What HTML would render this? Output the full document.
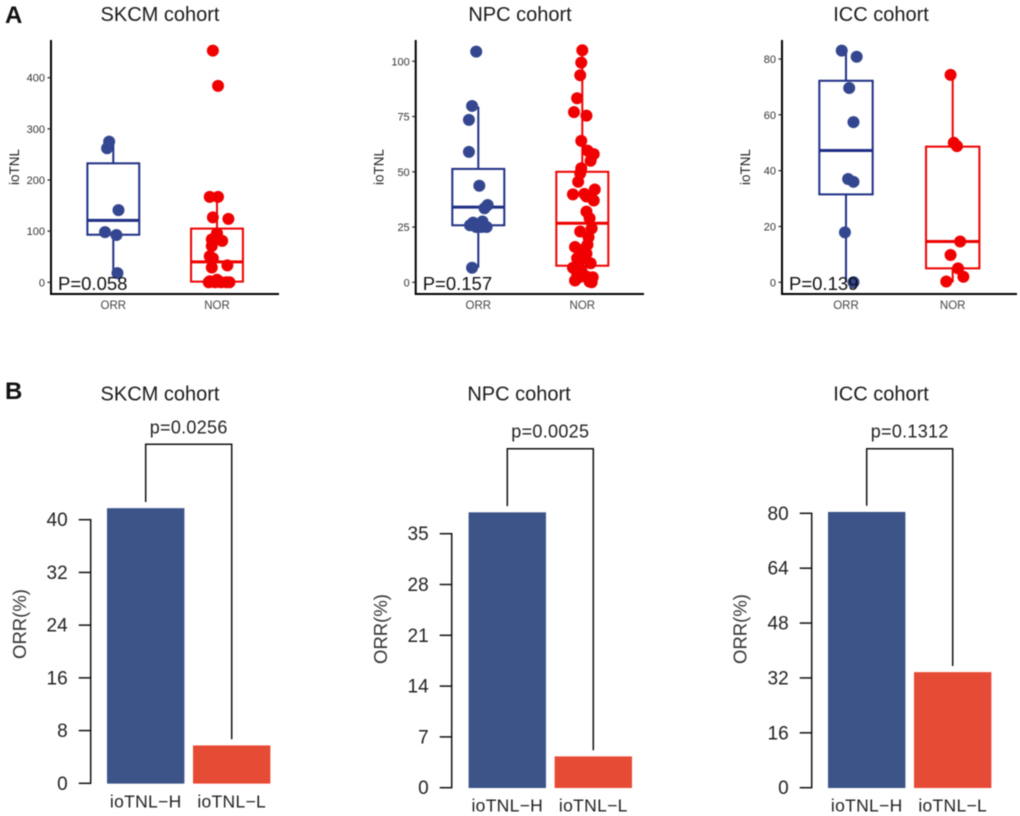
<!DOCTYPE html>
<html>
<head>
<meta charset="utf-8">
<title>ioTNL cohorts</title>
<style>
html,body{margin:0;padding:0;background:#fff;}
#fig{display:block;width:1020px;height:816px;font-family:"Liberation Sans",sans-serif;filter:blur(0.45px);}
.title{font-size:20px;fill:#1a1a1a;text-anchor:middle;}
.panel{font-size:24px;font-weight:bold;fill:#111;}
.ptext{font-size:18.5px;fill:#111;}
.ytA{font-size:13.5px;fill:#222;text-anchor:middle;}
.tkA{font-size:11px;fill:#333;text-anchor:end;}
.xkA{font-size:11.5px;fill:#444;text-anchor:middle;}
.tkB{font-size:19px;fill:#222;text-anchor:end;}
.xkB{font-size:17.5px;fill:#222;text-anchor:middle;letter-spacing:.3px;}
.ytB{font-size:18.5px;fill:#333;text-anchor:middle;}
.pB{font-size:18px;fill:#222;text-anchor:middle;letter-spacing:.3px;}
</style>
</head>
<body>
<svg id="fig" width="1020" height="816" viewBox="0 0 1020 816">
  <text class="panel" x="5" y="23">A</text>
  <text class="panel" x="5" y="399">B</text>
  <text class="title" x="160" y="21">SKCM cohort</text>
  <text class="title" x="520" y="21">NPC cohort</text>
  <text class="title" x="881" y="21">ICC cohort</text>
  <text class="title" x="160" y="400.5">SKCM cohort</text>
  <text class="title" x="519" y="400.5">NPC cohort</text>
  <text class="title" x="881" y="400.5">ICC cohort</text>
  <g id="layer"></g>
</svg>
<script>
// ---- Panel A data ----
const boxCategories = ['ORR', 'NOR'];

const skcmTicks = [0, 100, 200, 300, 400];
const skcmOrrBox = [18, 93, 121, 232.6, 275];
const skcmNorBox = [0, 1.3, 40, 105, 167];
const skcmOrrValues = [275, 262, 141, 98, 92.5, 18];
const skcmOrrJitter = [-.04, -.06, .05, -.08, .03, .04];
const skcmNorValues = [453, 384, 167, 167, 127, 124, 96, 86, 84, 81, 71, 51, 47, 33, 29, 5, 2, 0, 0, 0, 0, 1, 0];
const skcmNorJitter = [-.04, .01, -.07, .01, -.04, .11, 0, 0, -.05, .05, -.05, -.07, -.04, .10, -.05, 0, -.07, -.08, -.02, .04, .09, .01, .12];
const skcmP = 'P=0.058';

const npcTicks = [0, 25, 50, 75, 100];
const npcOrrBox = [6.6, 25.8, 34, 51.3, 79.5];
const npcNorBox = [0, 7.5, 26.7, 50, 105];
const npcOrrValues = [104.4, 79.8, 73.5, 59, 43.7, 35, 33.5, 27, 27.5, 25.8, 25, 25, 25, 6.6];
const npcOrrJitter = [-.02, -.06, -.09, -.09, .01, .09, .06, -.05, .04, -.08, -.02, .08, .03, -.06];
const npcNorValues = [105, 99.4, 93.7, 83.3, 77, 75.4, 64, 59.6, 58, 55, 51.6, 49.3, 45.5, 39.8, 40, 42, 37, 38.8, 32, 29, 24.4, 23, 20.4, 17, 16, 10.9, 10.9, 8.6, 6.6, 5.6, 1.8, .8, 2.6, 2.3, 0, 3.3, .3, 7.8, 13, 14.6, 4];
const npcNorJitter = [0, -.01, -.02, -.05, -.08, .04, -.01, .05, .11, .08, -.01, -.02, -.04, -.09, .02, .12, .11, .04, .04, .07, .09, -.02, .06, .05, -.07, -.05, .02, .08, -.09, -.01, -.05, -.07, .04, .10, .09, .01, .07, -.04, .04, -.01, -.05];
const npcP = 'P=0.157';

const iccTicks = [0, 20, 40, 60, 80];
const iccOrrBox = [0, 31.5, 47.2, 72.2, 83];
const iccNorBox = [0, 5, 14.6, 48.6, 74.3];
const iccOrrValues = [83, 80.8, 69.6, 57.4, 37, 36, 17.9, 0];
const iccOrrJitter = [-.04, .10, .03, .07, .02, .07, -.01, .07];
const iccNorValues = [74.3, 50, 48.8, 14.6, 9.8, 5, 2, .3];
const iccNorJitter = [-.02, .01, .04, .07, -.02, .05, .10, -.06];
const iccP = 'P=0.139';

// ---- Panel B data ----
const barCategories = ['ioTNL\u2212H', 'ioTNL\u2212L'];
const skcmBarValues = [41.7, 5.7];
const skcmBarTicks = [0, 8, 16, 24, 32, 40];
const skcmBarP = 'p=0.0256';
const npcBarValues = [37.9, 4.27];
const npcBarTicks = [0, 7, 14, 21, 28, 35];
const npcBarP = 'p=0.0025';
const iccBarValues = [80.3, 33.6];
const iccBarTicks = [0, 16, 32, 48, 64, 80];
const iccBarP = 'p=0.1312';

const NS = 'http://www.w3.org/2000/svg';
const layer = document.getElementById('layer');

function mk(tag, attrs, parent, txt) {
  const el = document.createElementNS(NS, tag);
  for (const k in attrs) el.setAttribute(k, attrs[k]);
  if (txt !== undefined) el.textContent = txt;
  (parent || layer).appendChild(el);
  return el;
}
function line(p, x1, y1, x2, y2, stroke, w) {
  return mk('line', {x1: x1, y1: y1, x2: x2, y2: y2, stroke: stroke, 'stroke-width': w}, p);
}

function boxPanel(id, g, ticks, orrBox, norBox, orrV, orrJ, norV, norJ, pText) {
  const root = mk('g', {});
  
  
  const yScale = v => g.y0 - v * (g.y0 - g.yRef) / g.vRef;
  const xScale = i => g.c0 + i * g.step;

  const yAxis = line(root, g.ax, 40, g.ax, g.bottom + 1, '#000', 2);
  
  
  const xAxis = line(root, g.ax, g.bottom, g.right, g.bottom, '#000', 2);
  
  

  ticks.forEach(t => {
    const y = yScale(t);
    line(root, g.ax - 3.5, y, g.ax, y, '#222', 1.2);
    const lab = mk('text', {class: 'tkA', x: g.ax - 6, y: y + 4}, root, String(t));
    
    
  });
  const yt = mk('text', {class: 'ytA', transform: 'translate(' + (g.ax - 32) + ',167) rotate(-90)'}, root, 'ioTNL');
  
  

  boxCategories.forEach((c, i) => {
    const x = xScale(i);
    const lab = mk('text', {class: 'xkA', x: x, y: 309}, root, c);
    
    
  });

  const series = [
    {box: orrBox, v: orrV, j: orrJ, stroke: '#1f2f85', fill: '#33468f', i: 0, name: 'orr'},
    {box: norBox, v: norV, j: norJ, stroke: '#ee0000', fill: '#f00000', i: 1, name: 'nor'}
  ];
  series.forEach(s => {
    const cx = xScale(s.i), hw = g.step * 0.25;
    const sg = mk('g', {}, root);
    
    
    line(sg, cx, yScale(s.box[3]), cx, yScale(s.box[4]), s.stroke, 2);
    line(sg, cx, yScale(s.box[1]), cx, yScale(s.box[0]), s.stroke, 2);
    const r = mk('rect', {x: cx - hw, y: yScale(s.box[3]), width: 2 * hw, height: yScale(s.box[1]) - yScale(s.box[3]), fill: 'none', stroke: s.stroke, 'stroke-width': 2}, sg);
    
    
    const med = line(sg, cx - hw, yScale(s.box[2]), cx + hw, yScale(s.box[2]), s.stroke, 3);
    
    
    s.v.forEach((v, k) => {
      const pt = mk('circle', {cx: cx + s.j[k] * g.step, cy: yScale(v), r: 6, fill: s.fill}, sg);
      
      
    });
  });
  const p = mk('text', {class: 'ptext', x: g.ax + 7, y: 290}, root, pText);
  
  
}

function barPanel(id, g, values, ticks, pText) {
  const root = mk('g', {});
  
  
  const top = ticks[ticks.length - 1];
  const yScale = v => g.y0 - v * (g.y0 - g.yTop) / top;
  const xScale = i => g.c0 + i * g.step;
  const colors = ['#3c5488', '#e64b35'];
  const edges = ['#2f4a86', '#e8452e'];

  values.forEach((v, i) => {
    const c = xScale(i);
    const b = mk('rect', {x: c - g.bw / 2, y: yScale(v), width: g.bw, height: g.y0 - yScale(v), fill: colors[i], stroke: edges[i], 'stroke-width': .6}, root);
    
    
    const lab = mk('text', {class: 'xkB', x: c, y: g.y0 + 24}, root, barCategories[i]);
    
    
  });

  const ax = line(root, g.ax, yScale(top), g.ax, g.y0, '#111', 1.5);
  
  
  ticks.forEach(t => {
    const y = yScale(t);
    line(root, g.ax - 12, y, g.ax + .7, y, '#111', 1.5);
    const lab = mk('text', {class: 'tkB', x: g.ax - 23, y: y + 6.5}, root, String(t));
    
    
  });
  const yt = mk('text', {class: 'ytB', transform: 'translate(' + g.ytx + ',' + g.yty + ') rotate(-90)'}, root, 'ORR(%)');
  
  

  const gap = 6.5;
  const x1 = xScale(0), x2 = xScale(1);
  const br = mk('polyline', {
    points: x1 + ',' + (yScale(values[0]) - gap) + ' ' + x1 + ',' + g.brTop + ' ' + x2 + ',' + g.brTop + ' ' + x2 + ',' + (yScale(values[1]) - gap),
    fill: 'none', stroke: '#111', 'stroke-width': 1.5
  }, root);
  
  
  const p = mk('text', {class: 'pB', x: (x1 + x2) / 2, y: g.brTop - 11}, root, pText);
  
  
}

boxPanel('skcm', {ax: 51, right: 279, bottom: 294, y0: 282.3, yRef: 77.7, vRef: 400, c0: 113.3, step: 103.7},
  skcmTicks, skcmOrrBox, skcmNorBox, skcmOrrValues, skcmOrrJitter, skcmNorValues, skcmNorJitter, skcmP);
boxPanel('npc', {ax: 415.7, right: 644, bottom: 294, y0: 282.3, yRef: 61.3, vRef: 100, c0: 478.3, step: 104},
  npcTicks, npcOrrBox, npcNorBox, npcOrrValues, npcOrrJitter, npcNorValues, npcNorJitter, npcP);
boxPanel('icc', {ax: 782, right: 1017, bottom: 294, y0: 282.3, yRef: 59, vRef: 80, c0: 846, step: 106.7},
  iccTicks, iccOrrBox, iccNorBox, iccOrrValues, iccOrrJitter, iccNorValues, iccNorJitter, iccP);

barPanel('skcm', {ax: 90.7, y0: 783.3, yTop: 519.7, c0: 145.7, step: 86, bw: 76.7, brTop: 444.3, ytx: 26, yty: 624}, skcmBarValues, skcmBarTicks, skcmBarP);
barPanel('npc', {ax: 451.7, y0: 787.7, yTop: 533.7, c0: 507.3, step: 86, bw: 76.7, brTop: 448.7, ytx: 387, yty: 629}, npcBarValues, npcBarTicks, npcBarP);
barPanel('icc', {ax: 811.7, y0: 787.7, yTop: 513.3, c0: 866.7, step: 86, bw: 76.7, brTop: 448.7, ytx: 746.5, yty: 629}, iccBarValues, iccBarTicks, iccBarP);
</script>
</body>
</html>
